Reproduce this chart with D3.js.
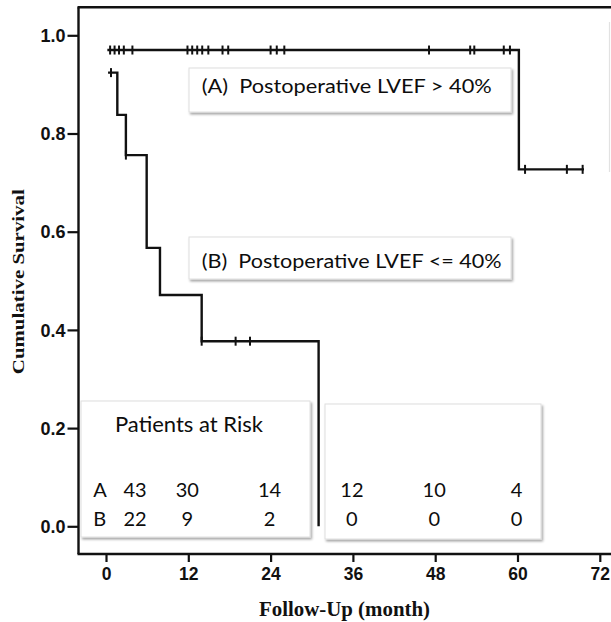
<!DOCTYPE html>
<html>
<head>
<meta charset="utf-8">
<script src="https://cdn.jsdelivr.net/npm/d3@7/dist/d3.min.js"></script>
<style>
  html, body { margin: 0; padding: 0; background: #ffffff; }
  svg { display: block; }
</style>
</head>
<body>
<svg id="chart" width="611" height="622"></svg>
<script>
// ---------------- data ----------------
const timeTicks = [0, 12, 24, 36, 48, 60, 72];
const survivalTicks = [0.0, 0.2, 0.4, 0.6, 0.8, 1.0];

// Group A: Postoperative LVEF > 40%
const groupATimes = [0.2, 60.2];
const groupASurvival = [0.970, 0.727];
const groupAEnd = 69.7;
const groupACensored = [0.6, 1.25, 1.9, 2.6, 3.85, 11.88, 12.57, 13.3, 14.03, 14.92,
                        16.99, 17.82, 24.0, 24.9, 26.0, 47.1, 53.1, 53.7, 58.0, 58.9,
                        61.1, 67.2, 69.5];

// Group B: Postoperative LVEF <= 40%
const groupBTimes = [0.3, 1.65, 2.9, 5.93, 7.87, 13.95, 31.0];
const groupBSurvival = [0.924, 0.838, 0.756, 0.567, 0.471, 0.377, 0.0];
const groupBEnd = 31.0;
const groupBCensored = [0.73, 2.9, 13.95, 18.9, 21.0];

// Patients at risk
const riskTimes = [0, 12, 24, 36, 48, 60];
const riskA = [43, 30, 14, 12, 10, 4];
const riskB = [22, 9, 2, 0, 0, 0];

const legendA = "(A)  Postoperative LVEF > 40%";
const legendB = "(B)  Postoperative LVEF <= 40%";
const xTitle = "Follow-Up (month)";
const yTitle = "Cumulative Survival";
const riskTitle = "Patients at Risk";

// ---------------- layout ----------------
const svg = d3.select("#chart");
const x = d3.scaleLinear().domain([0, 72]).range([106, 599.8]);
const y = d3.scaleLinear().domain([0, 1]).range([526.3, 35.3]);
const axisX0 = 78.5, axisTop = 7.3, axisBottom = 554, rightEdge = 611;
const ink = "#111";
const textInk = "#0d0d0d";
const calibri = "Lato, 'Open Sans', sans-serif";

const defs = svg.append("defs");
const f = defs.append("filter").attr("id", "shadow")
  .attr("x", "-5%").attr("y", "-10%").attr("width", "115%").attr("height", "130%");
f.append("feDropShadow").attr("dx", 1.5).attr("dy", 2).attr("stdDeviation", 1.3)
  .attr("flood-color", "#000").attr("flood-opacity", 0.35);

// faint edge of a neighbouring element at the right border
svg.append("line").attr("x1", 609.5).attr("x2", 609.5).attr("y1", 22).attr("y2", 172)
  .attr("stroke", "#e2e2e2").attr("stroke-width", 1.2);

// ---------------- boxes ----------------
function box(x0, y0, x1, y1) {
  svg.append("rect").attr("x", x0).attr("y", y0)
    .attr("width", x1 - x0).attr("height", y1 - y0)
    .attr("fill", "#fff").attr("stroke", "#dedede").attr("stroke-width", 1)
    .attr("filter", "url(#shadow)");
}
box(189, 68, 511, 112);
box(189, 237, 511, 279);
box(81, 401, 310, 537);
box(325, 404, 541, 539);

function fitText(sel, len) {
  sel.attr("textLength", len).attr("lengthAdjust", "spacingAndGlyphs");
}

svg.append("text").attr("x", 201.7).attr("y", 92.7)
  .attr("font-family", calibri).attr("font-size", 19.5).attr("fill", textInk)
  .style("white-space", "pre").text(legendA).call(fitText, 290);
svg.append("text").attr("x", 201.7).attr("y", 267.7)
  .attr("font-family", calibri).attr("font-size", 19.5).attr("fill", textInk)
  .style("white-space", "pre").text(legendB).call(fitText, 300);
svg.append("text").attr("x", 115).attr("y", 431.7)
  .attr("font-family", calibri).attr("font-size", 21).attr("fill", textInk)
  .text(riskTitle).call(fitText, 148);

// risk table
const rowBase = [497.3, 525.7];
["A", "B"].forEach((lab, i) => {
  svg.append("text").attr("x", 93.3).attr("y", rowBase[i])
    .attr("font-family", calibri).attr("font-size", 20).attr("fill", textInk).text(lab);
});
[riskA, riskB].forEach((row, i) => {
  svg.append("g").selectAll("text").data(row).join("text")
    .attr("x", (d, j) => x(riskTimes[j]) + (riskTimes[j] === 0 ? 29 : -1))
    .attr("y", rowBase[i])
    .attr("text-anchor", "middle")
    .attr("font-family", calibri).attr("font-size", 20).attr("fill", textInk)
    .text(d => d);
});

// ---------------- axes ----------------
const axisStroke = 2.4;
// frame lines
svg.append("line").attr("x1", axisX0 - 1).attr("x2", rightEdge).attr("y1", axisTop).attr("y2", axisTop)
  .attr("stroke", ink).attr("stroke-width", axisStroke);
svg.append("line").attr("x1", axisX0).attr("x2", axisX0).attr("y1", axisTop).attr("y2", axisBottom)
  .attr("stroke", ink).attr("stroke-width", axisStroke);
svg.append("line").attr("x1", axisX0 - 1).attr("x2", rightEdge).attr("y1", axisBottom).attr("y2", axisBottom)
  .attr("stroke", ink).attr("stroke-width", axisStroke);

const yAxis = d3.axisLeft(y).tickValues(survivalTicks).tickFormat(d3.format(".1f"))
  .tickSize(11).tickPadding(2);
const gy = svg.append("g").attr("transform", `translate(${axisX0},0)`).call(yAxis);
gy.select(".domain").remove();
gy.selectAll(".tick line").attr("stroke", ink).attr("stroke-width", 2.2);
gy.selectAll(".tick text").attr("fill", ink)
  .attr("font-family", "'Liberation Sans', Arial, sans-serif")
  .attr("font-weight", "bold").attr("font-size", 18).attr("dy", "0.34em");

const xAxis = d3.axisBottom(x).tickValues(timeTicks).tickFormat(d3.format("d"))
  .tickSize(8).tickPadding(6);
const gx = svg.append("g").attr("transform", `translate(0,${axisBottom})`).call(xAxis);
gx.select(".domain").remove();
gx.selectAll(".tick line").attr("stroke", ink).attr("stroke-width", 2.2);
gx.selectAll(".tick text").attr("fill", ink)
  .attr("font-family", "'Liberation Sans', Arial, sans-serif")
  .attr("font-weight", "bold").attr("font-size", 17.5);

// titles
svg.append("text").attr("x", 344.5).attr("y", 616).attr("text-anchor", "middle")
  .attr("font-family", "'Liberation Serif', 'Times New Roman', serif")
  .attr("font-weight", "bold").attr("font-size", 20.5).attr("fill", ink)
  .text(xTitle).call(fitText, 171);
svg.append("text").attr("transform", "translate(24,281.7) rotate(-90)")
  .attr("text-anchor", "middle")
  .attr("font-family", "'Liberation Serif', 'Times New Roman', serif")
  .attr("font-weight", "bold").attr("font-size", 17).attr("fill", ink)
  .text(yTitle).call(fitText, 185);

// ---------------- survival curves ----------------
const stepLine = d3.line().x(d => x(d[0])).y(d => y(d[1])).curve(d3.curveStepAfter);

function curvePoints(times, surv, end) {
  const pts = times.map((t, i) => [t, surv[i]]);
  if (end > times[times.length - 1]) pts.push([end, surv[surv.length - 1]]);
  return pts;
}
function survAt(times, surv, t) {
  let s = surv[0];
  for (let i = 0; i < times.length; i++) if (times[i] <= t + 1e-9) s = surv[i];
  return s;
}

const groups = [
  { times: groupATimes, surv: groupASurvival, end: groupAEnd, cens: groupACensored },
  { times: groupBTimes, surv: groupBSurvival, end: groupBEnd, cens: groupBCensored }
];

groups.forEach(g => {
  svg.append("path").datum(curvePoints(g.times, g.surv, g.end))
    .attr("d", stepLine).attr("fill", "none")
    .attr("stroke", ink).attr("stroke-width", 2.4);
  svg.append("g").selectAll("line").data(g.cens).join("line")
    .attr("x1", d => x(d)).attr("x2", d => x(d))
    .attr("y1", d => y(survAt(g.times, g.surv, d)) - 4.5)
    .attr("y2", d => y(survAt(g.times, g.surv, d)) + 4.5)
    .attr("stroke", ink).attr("stroke-width", 2);
});
</script>
</body>
</html>
